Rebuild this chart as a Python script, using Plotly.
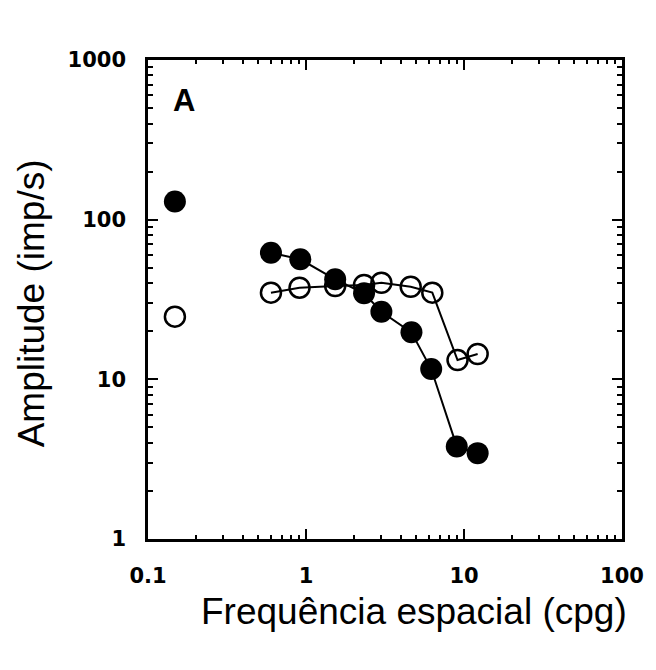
import plotly.graph_objects as go

# Spatial frequency (cpg) and response amplitude (imp/s)
freq_filled = [0.6, 0.92, 1.53, 2.33, 3.0, 4.65, 6.2, 9.0, 12.2]
amp_filled = [62, 56.5, 42.3, 34.6, 26.5, 19.7, 11.6, 3.8, 3.45]
freq_open = [0.6, 0.91, 1.53, 2.33, 3.0, 4.6, 6.3, 9.1, 12.2]
amp_open = [34.9, 37.5, 38.4, 39.0, 40.3, 38.0, 34.9, 13.2, 14.4]

# Responses at the lowest frequency, plotted on their own
freq_low = [0.148]
amp_low_filled = [130]
amp_low_open = [24.7]

x_tickvals = [0.1, 1, 10, 100]
x_ticktext = ["0.1", "1", "10", "100"]
y_tickvals = [1, 10, 100, 1000]
y_ticktext = ["1", "10", "100", "1000"]

x_minor = [m * d for d in (0.1, 1, 10) for m in range(2, 10)]
y_minor = [m * d for d in (1, 10, 100) for m in range(2, 10)]

open_marker = dict(symbol="circle-open", size=20, color="black", line=dict(width=2.5, color="black"))
filled_marker = dict(symbol="circle", size=22, color="black", line=dict(width=0))

fig = go.Figure()
fig.add_trace(go.Scatter(x=freq_open, y=amp_open, mode="lines+markers",
                         line=dict(color="black", width=2), marker=open_marker))
fig.add_trace(go.Scatter(x=freq_low, y=amp_low_open, mode="markers", marker=open_marker))
fig.add_trace(go.Scatter(x=freq_filled, y=amp_filled, mode="lines+markers",
                         line=dict(color="black", width=2), marker=filled_marker))
fig.add_trace(go.Scatter(x=freq_low, y=amp_low_filled, mode="markers", marker=filled_marker))

tick_font = dict(family="DejaVu Sans", size=21, color="black", weight="bold")
axis_common = dict(
    type="log", showgrid=False, zeroline=False,
    showline=True, linecolor="black", linewidth=2.5, mirror="ticks",
    ticks="inside", ticklen=10, tickwidth=2, tickcolor="black",
    tickfont=tick_font,
)

fig.update_xaxes(range=[-1, 2], tickvals=x_tickvals, ticktext=x_ticktext,
                 ticklabelstandoff=16,
                 minor=dict(tickvals=x_minor, ticks="inside", ticklen=4, tickwidth=2,
                            tickcolor="black", showgrid=False),
                 **axis_common)
fig.update_yaxes(range=[0, 3], tickvals=y_tickvals, ticktext=y_ticktext,
                 ticklabelstandoff=15,
                 minor=dict(tickvals=y_minor, ticks="inside", ticklen=5, tickwidth=2,
                            tickcolor="black", showgrid=False),
                 **axis_common)

title_font = dict(family="Liberation Sans, Arial", size=37, color="black")
fig.add_annotation(text="Frequência espacial (cpg)", xref="paper", yref="paper",
                   x=0.561, y=-0.152, xanchor="center", yanchor="middle",
                   showarrow=False, font=title_font)
fig.add_annotation(text="Amplitude (imp/s)", xref="paper", yref="paper",
                   x=-0.244, y=0.4927, xanchor="center", yanchor="middle",
                   textangle=-90, showarrow=False, font=title_font)
fig.add_annotation(text="<b>A</b>", xref="paper", yref="paper",
                   x=(184 - 148) / 476, y=(539 - 100) / 479,
                   xanchor="center", yanchor="middle", showarrow=False,
                   font=dict(family="Liberation Sans, Arial", size=31, color="black"))

fig.update_layout(
    width=656, height=670,
    margin=dict(l=148, r=32, t=60, b=131),
    plot_bgcolor="white", paper_bgcolor="white",
    showlegend=False,
)

fig.write_html("out.html")
